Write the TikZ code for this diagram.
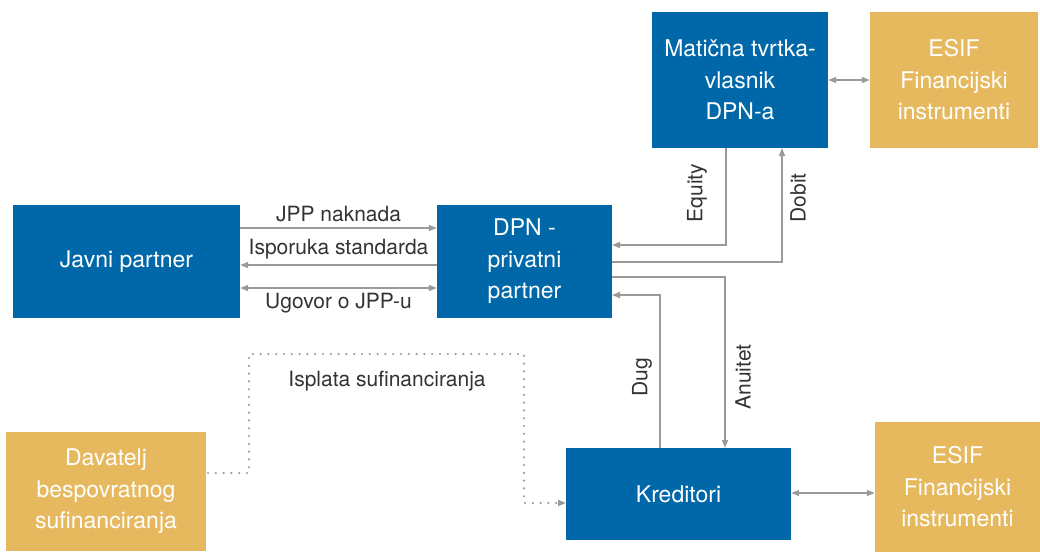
\documentclass[tikz,border=0pt]{standalone}
\usepackage{fontspec}
\setmainfont{TeX Gyre Heros}
\usetikzlibrary{arrows.meta}
\definecolor{bblue}{HTML}{0068A9}
\definecolor{bgold}{HTML}{E6B95E}
\definecolor{agray}{HTML}{9A9A9A}
\definecolor{tgray}{HTML}{333333}
\tikzset{
  bluebox/.style={fill=bblue, draw=none, text=white, align=center, font=\fontsize{23}{31.5}\selectfont, inner sep=0pt},
  goldbox/.style={fill=bgold, draw=none, text=white, align=center, font=\fontsize{23}{31.5}\selectfont, inner sep=0pt},
  conn/.style={draw=agray, line width=1.6pt, -{Triangle[length=8pt,width=6pt]}},
  conn2/.style={draw=agray, line width=1.6pt, {Triangle[length=8pt,width=6pt]}-{Triangle[length=8pt,width=6pt]}},
  dotconn/.style={draw=agray, line width=2.4pt, dash pattern=on 0pt off 7.8pt, line cap=round, -{Triangle[length=8pt,width=6pt]}},
  lbl/.style={text=tgray, font=\fontsize{21}{24}\selectfont, inner sep=0pt}
}
\begin{document}
\begin{tikzpicture}[x=1pt,y=-1pt]
\useasboundingbox (0,0) rectangle (1040,552);
% boxes
\node[bluebox, minimum width=176pt, minimum height=136pt] (mat) at (740,80) {\raisebox{3pt}{\parbox{176pt}{\centering Matična tvrtka-\\vlasnik\\DPN-a}}};
\node[goldbox, minimum width=168pt, minimum height=136pt] (esif1) at (954,80) {\raisebox{3pt}{\parbox{168pt}{\centering ESIF\\Financijski\\instrumenti}}};
\node[bluebox, minimum width=227pt, minimum height=113pt] (javni) at (126.5,261.5) {Javni partner};
\node[bluebox, minimum width=175pt, minimum height=113pt] (dpn) at (524.5,261.5) {DPN -\\privatni\\partner};
\node[goldbox, minimum width=200pt, minimum height=119pt] (dav) at (106,491.5) {Davatelj\\bespovratnog\\sufinanciranja};
\node[bluebox, minimum width=225pt, minimum height=92pt] (kred) at (678.5,494) {Kreditori};
\node[goldbox, minimum width=165pt, minimum height=130pt] (esif2) at (957.5,487) {ESIF\\Financijski\\instrumenti};
% coordinates
\coordinate (eqA) at (726,148);
\coordinate (eqB) at (726,245);
\coordinate (eqC) at (612,245);
\coordinate (doA) at (612,262);
\coordinate (doB) at (782,262);
\coordinate (doC) at (782,148);
\coordinate (anA) at (612,277);
\coordinate (anB) at (725,277);
\coordinate (anC) at (725,448);
\coordinate (dgA) at (660,448);
\coordinate (dgB) at (660,295);
\coordinate (dgC) at (612,295);
\coordinate (dt1) at (208,473);
\coordinate (dt2) at (249,473);
\coordinate (dt3) at (249,354);
\coordinate (dt4) at (524,354);
\coordinate (dt5) at (524,503);
\coordinate (dt6) at (566,503);
% horizontal arrows
\draw[conn] (javni.east |- 0,228) -- node[lbl, above=5pt] (l1) {JPP naknada} (dpn.west |- 0,228);
\draw[conn] (dpn.west |- 0,265) -- node[lbl, above=5pt] (l2) {Isporuka standarda} (javni.east |- 0,265);
\draw[conn2] (javni.east |- 0,288) -- node[lbl, below=4pt] (l3) {Ugovor o JPP-u} (dpn.west |- 0,288);
\draw[conn2] (mat.east) -- (esif1.west);
\draw[conn2] (kred.east |- 0,493) -- (esif2.west |- 0,493);
% elbow connectors
\draw[conn] (eqA) -- (eqB) -- (eqC);
\draw[conn] (doA) -- (doB) -- (doC);
\draw[conn] (anA) -- (anB) -- (anC);
\draw[conn] (dgA) -- (dgB) -- (dgC);
\node[lbl, rotate=90] (l4) at (697,193) {Equity};
\node[lbl, rotate=90] (l5) at (798,198) {Dobit};
\node[lbl, rotate=90] (l6) at (743,377) {Anuitet};
\node[lbl, rotate=90] (l7) at (642,377) {Dug};
\node[lbl] (l8) at (387,381) {Isplata sufinanciranja};
\draw[dotconn] (dt1) -- (dt2) -- (dt3) -- (dt4) -- (dt5) -- (dt6);
\end{tikzpicture}
\end{document}
